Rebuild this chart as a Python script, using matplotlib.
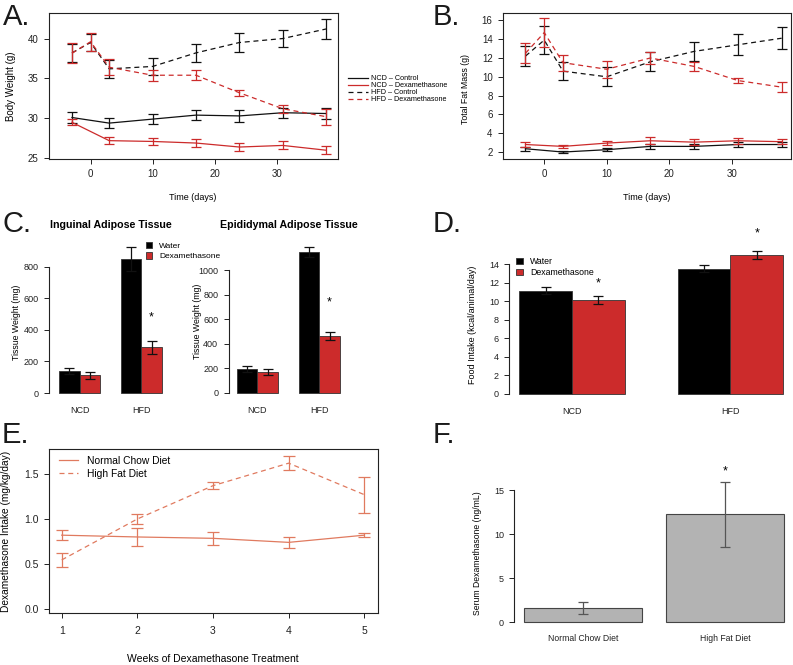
import matplotlib
matplotlib.use("Agg")
import matplotlib.pyplot as plt
import numpy as np

plt.rcParams['font.family'] = ['Liberation Sans', 'DejaVu Sans']

W, H = 793, 665
RED = '#cc2b2b'
BLK = '#111111'
SALMON = '#e07a5f'
GREY = '#b3b3b3'

# A / B: time course
days_hfd = [-3, 0, 3, 10, 17, 24, 31, 38]
days_ncd = [-3, 3, 10, 17, 24, 31, 38]

bw_ncd_ctrl = [30.1, 29.4, 29.9, 30.4, 30.3, 30.7, 30.6]
bw_ncd_ctrl_se = [0.75, 0.6, 0.6, 0.65, 0.7, 0.6, 0.7]
bw_ncd_dex = [29.5, 27.2, 27.1, 26.9, 26.4, 26.6, 26.0]
bw_ncd_dex_se = [0.4, 0.4, 0.45, 0.5, 0.5, 0.5, 0.5]
bw_hfd_ctrl = [38.2, 39.5, 36.2, 36.5, 38.2, 39.5, 40.0, 41.2]
bw_hfd_ctrl_se = [1.1, 1.1, 1.1, 1.1, 1.1, 1.2, 1.1, 1.2]
bw_hfd_dex = [38.15, 39.6, 36.4, 35.4, 35.4, 33.2, 31.2, 30.2]
bw_hfd_dex_se = [1.25, 1.15, 1.0, 0.7, 0.6, 0.4, 0.5, 1.0]

fm_ncd_ctrl = [2.35, 2.0, 2.25, 2.6, 2.6, 2.8, 2.8]
fm_ncd_ctrl_se = [0.2, 0.1, 0.15, 0.3, 0.3, 0.3, 0.3]
fm_ncd_dex = [2.8, 2.6, 2.95, 3.2, 3.05, 3.2, 3.1]
fm_ncd_dex_se = [0.25, 0.15, 0.2, 0.35, 0.35, 0.3, 0.25]
fm_hfd_ctrl = [12.2, 13.9, 10.6, 10.0, 11.6, 12.7, 13.4, 14.1]
fm_hfd_ctrl_se = [1.1, 1.45, 0.95, 1.0, 1.0, 1.0, 1.1, 1.15]
fm_hfd_dex = [12.5, 14.7, 11.5, 10.8, 12.0, 11.1, 9.6, 8.9]
fm_hfd_dex_se = [1.05, 1.5, 0.85, 0.9, 0.6, 0.5, 0.27, 0.55]

series_labels = ['NCD \u2013 Control', 'NCD \u2013 Dexamethasone',
                 'HFD \u2013 Control', 'HFD \u2013 Dexamethasone']

# C / D: bars
diet_groups = ['NCD', 'HFD']
ing_water = [141, 846]
ing_water_se = [20, 75]
ing_dex = [112, 289]
ing_dex_se = [20, 41]
epi_water = [192, 1144]
epi_water_se = [25, 40]
epi_dex = [173, 463]
epi_dex_se = [25, 30]

food_water = [11.15, 13.53]
food_water_se = [0.4, 0.4]
food_dex = [10.15, 15.0]
food_dex_se = [0.45, 0.4]

# E
weeks = [1, 2, 3, 4, 5]
intake_ncd = [0.82, 0.80, 0.785, 0.74, 0.82]
intake_ncd_se = [0.055, 0.1, 0.075, 0.06, 0.02]
intake_hfd = [0.545, 1.0, 1.37, 1.62, 1.27]
intake_hfd_se = [0.08, 0.06, 0.04, 0.08, 0.2]

# F
serum_labels = ['Normal Chow Diet', 'High Fat Diet']
serum = [1.59, 12.24]
serum_se = [0.67, 3.7]

fig = plt.figure(figsize=(W / 100, H / 100), dpi=100)


def px_axes(x0, y0, x1, y1):
    return fig.add_axes([x0 / W, 1 - y1 / H, (x1 - x0) / W, (y1 - y0) / H])


def px_text(x, y, s, **kw):
    return fig.text(x / W, 1 - y / H, s, **kw)


def style(ax, size=6.5, lw=0.8):
    ax.tick_params(direction='out', length=3.5, width=0.7, labelsize=size, pad=4, colors='#222222')
    for sp in ax.spines.values():
        sp.set_linewidth(lw)
        sp.set_color('#222222')


def time_course(ax, sets):
    for x, y, e, c, ls, lab in sets:
        ax.plot(x, y, color=c, lw=0.9, linestyle=ls, label=lab)
        ax.errorbar(x, y, yerr=e, fmt='none', ecolor=c, elinewidth=0.9, capsize=3.6, capthick=0.9)


dash = (0, (4, 3))

# ---- A
axA = px_axes(49, 13, 338, 159)
time_course(axA, [
    (days_ncd, bw_ncd_ctrl, bw_ncd_ctrl_se, BLK, '-', series_labels[0]),
    (days_ncd, bw_ncd_dex, bw_ncd_dex_se, RED, '-', series_labels[1]),
    (days_hfd, bw_hfd_ctrl, bw_hfd_ctrl_se, BLK, dash, series_labels[2]),
    (days_hfd, bw_hfd_dex, bw_hfd_dex_se, RED, dash, series_labels[3]),
])
axA.set_xlim(-6.7, 39.9)
axA.set_ylim(24.9, 43.2)
axA.set_xticks([0, 10, 20, 30])
axA.set_yticks([25, 30, 35, 40])
style(axA, 7)
axA.legend(loc='upper left', bbox_to_anchor=(348 / W, 1 - 75 / H), bbox_transform=fig.transFigure,
           frameon=False, fontsize=5.2, labelspacing=0.0, handlelength=2.8, handletextpad=0.4,
           borderpad=0, borderaxespad=0)
px_text(193, 198, 'Time (days)', ha='center', va='center', fontsize=6.5)
px_text(11, 86, 'Body Weight (g)', ha='center', va='center', rotation=90, fontsize=7)

# ---- B
axB = px_axes(503, 13, 791, 159)
time_course(axB, [
    (days_ncd, fm_ncd_ctrl, fm_ncd_ctrl_se, BLK, '-', None),
    (days_ncd, fm_ncd_dex, fm_ncd_dex_se, RED, '-', None),
    (days_hfd, fm_hfd_ctrl, fm_hfd_ctrl_se, BLK, dash, None),
    (days_hfd, fm_hfd_dex, fm_hfd_dex_se, RED, dash, None),
])
axB.set_xlim(-6.6, 39.5)
axB.set_ylim(1.26, 16.78)
axB.set_xticks([0, 10, 20, 30])
axB.set_yticks(range(2, 17, 2))
style(axB, 7)
px_text(647, 198, 'Time (days)', ha='center', va='center', fontsize=6.5)
px_text(466, 89, 'Total Fat Mass (g)', ha='center', va='center', rotation=90, fontsize=6.3)


def grouped_bars(ax, water, water_se, dex, dex_se, cap, top_tick):
    lefts = np.array([1, 4])
    ax.bar(lefts, water, width=1, align='edge', color='black', edgecolor='#333333', lw=0.6, label='Water')
    ax.bar(lefts + 1, dex, width=1, align='edge', color=RED, edgecolor='#333333', lw=0.6, label='Dexamethasone')
    ax.errorbar(lefts + 0.5, water, yerr=water_se, fmt='none', ecolor=BLK, elinewidth=0.9,
                capsize=cap, capthick=0.9, clip_on=False)
    ax.errorbar(lefts + 1.5, dex, yerr=dex_se, fmt='none', ecolor=BLK, elinewidth=0.9,
                capsize=cap, capthick=0.9, clip_on=False)
    for s in ['top', 'right', 'bottom']:
        ax.spines[s].set_visible(False)
    ax.spines['left'].set_bounds(0, top_tick)
    ax.set_xticks(lefts + 1, diet_groups)
    style(ax)
    ax.tick_params(axis='x', length=0)
    return lefts


# ---- C inguinal
axC1 = px_axes(49.3, 250, 168, 400)
lefts = grouped_bars(axC1, ing_water, ing_water_se, ing_dex, ing_dex_se, 3.6, 800)
axC1.set_xlim(0.53, 6.3)
axC1.set_ylim(-44, 905)
axC1.set_yticks([0, 200, 400, 600, 800])
axC1.tick_params(axis='x', pad=4)
axC1.text(lefts[1] + 1.5, ing_dex[1] + ing_dex_se[1] + 150, '*', ha='center', va='center', fontsize=9)
axC1.legend(loc='upper left', bbox_to_anchor=(146 / W, 1 - 242 / H), bbox_transform=fig.transFigure,
            frameon=False, fontsize=6, labelspacing=0.3, handlelength=0.75, handleheight=0.75,
            handletextpad=0.8, borderpad=0, borderaxespad=0)
px_text(111, 225, 'Inguinal Adipose Tissue', ha='center', va='center', fontsize=7.7, fontweight='bold')
px_text(17, 322, 'Tissue Weight (mg)', ha='center', va='center', rotation=90, fontsize=6.3)

# ---- C epididymal
axC2 = px_axes(228.7, 250, 346, 400)
lefts = grouped_bars(axC2, epi_water, epi_water_se, epi_dex, epi_dex_se, 3.6, 1000)
axC2.set_xlim(0.61, 6.3)
axC2.set_ylim(-57, 1163)
axC2.set_yticks([0, 200, 400, 600, 800, 1000])
axC2.tick_params(axis='x', pad=4)
axC2.text(lefts[1] + 1.5, epi_dex[1] + epi_dex_se[1] + 240, '*', ha='center', va='center', fontsize=9)
px_text(289, 225, 'Epididymal Adipose Tissue', ha='center', va='center', fontsize=7.7, fontweight='bold')
px_text(197, 321, 'Tissue Weight (mg)', ha='center', va='center', rotation=90, fontsize=6.3)

# ---- D
axD = px_axes(509.3, 220, 791, 400)
lefts = grouped_bars(axD, food_water, food_water_se, food_dex, food_dex_se, 3.6, 14)
axD.set_xlim(0.81, 6.15)
axD.set_ylim(-0.648, 18.78)
axD.set_yticks(range(0, 15, 2))
axD.tick_params(axis='x', pad=5)
for i, off in zip(range(2), [1.3, 1.9]):
    axD.text(lefts[i] + 1.5, food_dex[i] + food_dex_se[i] + off, '*', ha='center', va='center', fontsize=9)
axD.legend(loc='upper left', bbox_to_anchor=(516 / W, 1 - 257 / H), bbox_transform=fig.transFigure,
           frameon=False, fontsize=6.3, labelspacing=0.25, handlelength=0.75, handleheight=0.75,
           handletextpad=0.9, borderpad=0, borderaxespad=0)
px_text(473, 325, 'Food Intake (kcal/animal/day)', ha='center', va='center', rotation=90, fontsize=6.5)

# ---- E
axE = px_axes(49.3, 449.3, 377.7, 613.3)
axE.plot(weeks, intake_ncd, color=SALMON, lw=0.9, label='Normal Chow Diet')
axE.plot(weeks, intake_hfd, color=SALMON, lw=0.9, linestyle=dash, label='High Fat Diet')
axE.errorbar(weeks, intake_ncd, yerr=intake_ncd_se, fmt='none', ecolor=SALMON, elinewidth=0.9,
             capsize=4.3, capthick=0.9)
axE.errorbar(weeks, intake_hfd, yerr=intake_hfd_se, fmt='none', ecolor=SALMON, elinewidth=0.9,
             capsize=4.3, capthick=0.9)
axE.set_xlim(0.836, 5.177)
axE.set_ylim(-0.048, 1.774)
axE.set_xticks(weeks)
axE.set_yticks([0.0, 0.5, 1.0, 1.5])
axE.set_yticklabels(['0.0', '0.5', '1.0', '1.5'])
style(axE, 7.5)
axE.tick_params(axis='x', pad=6)
axE.legend(loc='upper left', bbox_to_anchor=(59 / W, 1 - 456 / H), bbox_transform=fig.transFigure,
           frameon=False, fontsize=7.4, labelspacing=0.25, handlelength=1.85, handletextpad=0.85,
           borderpad=0, borderaxespad=0)
px_text(213, 659, 'Weeks of Dexamethasone Treatment', ha='center', va='center', fontsize=7.5)
px_text(6, 531, 'Dexamethasone Intake (mg/kg/day)', ha='center', va='center', rotation=90, fontsize=7.3)

# ---- F
axF = px_axes(514.3, 440, 790, 630)
fx = np.array([0.2, 1.4])
axF.bar(fx, serum, width=1, align='edge', color=GREY, edgecolor='#444444', lw=0.8)
axF.errorbar(fx + 0.5, serum, yerr=serum_se, fmt='none', ecolor='#555555', elinewidth=0.9,
             capsize=3.3, capthick=0.9, clip_on=False)
for s in ['top', 'right', 'bottom']:
    axF.spines[s].set_visible(False)
axF.spines['left'].set_bounds(0, 15)
axF.set_xlim(0.115, 2.45)
axF.set_ylim(-0.87, 20.67)
axF.set_yticks([0, 5, 10, 15])
axF.set_xticks(fx + 0.5, serum_labels)
style(axF)
axF.tick_params(axis='x', length=0, pad=3.2, labelsize=6.2)
axF.text(fx[1] + 0.5, serum[1] + serum_se[1] + 1.2, '*', ha='center', va='center', fontsize=9)
px_text(477, 553, 'Serum Dexamethasone (ng/mL)', ha='center', va='center', rotation=90, fontsize=6.2)

# panel letters
for x, y, s in [(3, 25, 'A.'), (433, 25, 'B.'), (3, 232, 'C.'), (433, 232, 'D.'),
                (2, 443, 'E.'), (433, 443, 'F.')]:
    px_text(x, y, s, ha='left', va='baseline', fontsize=21, color='#1a1a1a')

fig.savefig('out.png', dpi=100)
